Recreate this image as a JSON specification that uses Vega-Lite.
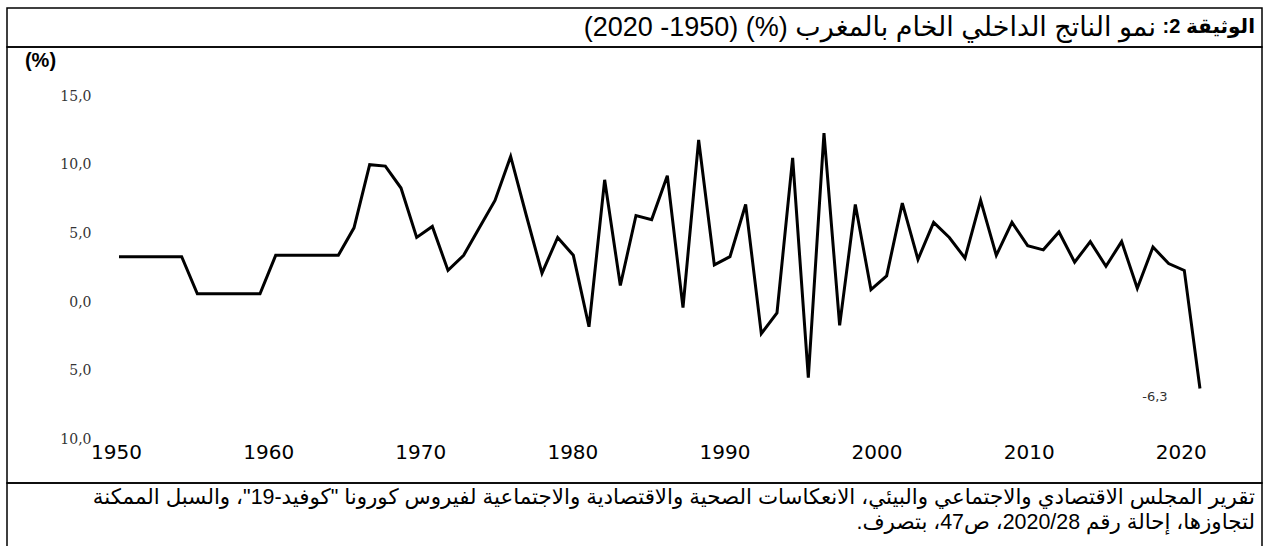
{
  "$schema": "https://vega.github.io/schema/vega-lite/v6.json",
  "background": "white",
  "padding": {"left": 6, "top": 1, "right": 3, "bottom": 0},
  "spacing": 0,
  "bounds": "flush",
  "config": {
    "view": {"stroke": "#000", "strokeWidth": 1.5},
    "locale": {"number": {"decimal": ",", "thousands": "\u00a0", "grouping": [3], "currency": ["", ""], "minus": "-"}},
    "title": {"font": "Liberation Sans, DejaVu Sans", "color": "#000", "anchor": "end", "frame": "group"}
  },
  "datasets": {
    "gdp": [
      {"year": 1951, "value": 3.3}, {"year": 1952, "value": 3.3}, {"year": 1953, "value": 3.3}, {"year": 1954, "value": 3.3}, {"year": 1955, "value": 3.3},
      {"year": 1956, "value": 0.6}, {"year": 1957, "value": 0.6}, {"year": 1958, "value": 0.6}, {"year": 1959, "value": 0.6}, {"year": 1960, "value": 0.6},
      {"year": 1961, "value": 3.4}, {"year": 1962, "value": 3.4}, {"year": 1963, "value": 3.4}, {"year": 1964, "value": 3.4}, {"year": 1965, "value": 3.4},
      {"year": 1966, "value": 5.4}, {"year": 1967, "value": 10.0}, {"year": 1968, "value": 9.9}, {"year": 1969, "value": 8.3}, {"year": 1970, "value": 4.7},
      {"year": 1971, "value": 5.5}, {"year": 1972, "value": 2.3}, {"year": 1973, "value": 3.4}, {"year": 1974, "value": 5.4}, {"year": 1975, "value": 7.4},
      {"year": 1976, "value": 10.6}, {"year": 1977, "value": 6.3}, {"year": 1978, "value": 2.1}, {"year": 1979, "value": 4.7}, {"year": 1980, "value": 3.4},
      {"year": 1981, "value": -1.8}, {"year": 1982, "value": 8.9}, {"year": 1983, "value": 1.2}, {"year": 1984, "value": 6.3}, {"year": 1985, "value": 6.0},
      {"year": 1986, "value": 9.2}, {"year": 1987, "value": -0.4}, {"year": 1988, "value": 11.8}, {"year": 1989, "value": 2.7}, {"year": 1990, "value": 3.3},
      {"year": 1991, "value": 7.1}, {"year": 1992, "value": -2.3}, {"year": 1993, "value": -0.8}, {"year": 1994, "value": 10.5}, {"year": 1995, "value": -5.5},
      {"year": 1996, "value": 12.3}, {"year": 1997, "value": -1.7}, {"year": 1998, "value": 7.1}, {"year": 1999, "value": 0.9}, {"year": 2000, "value": 1.9},
      {"year": 2001, "value": 7.2}, {"year": 2002, "value": 3.1}, {"year": 2003, "value": 5.8}, {"year": 2004, "value": 4.7}, {"year": 2005, "value": 3.2},
      {"year": 2006, "value": 7.4}, {"year": 2007, "value": 3.4}, {"year": 2008, "value": 5.8}, {"year": 2009, "value": 4.1}, {"year": 2010, "value": 3.8},
      {"year": 2011, "value": 5.1}, {"year": 2012, "value": 2.9}, {"year": 2013, "value": 4.4}, {"year": 2014, "value": 2.6}, {"year": 2015, "value": 4.4},
      {"year": 2016, "value": 1.0}, {"year": 2017, "value": 4.0}, {"year": 2018, "value": 2.8}, {"year": 2019, "value": 2.3}, {"year": 2020, "value": -6.3}
    ]
  },
  "vconcat": [
    {
      "width": 1255,
      "height": 39,
      "data": {"values": [{}]},
      "mark": {"type": "text", "text": ""},
      "encoding": {
        "x": {"datum": 0, "type": "quantitative", "axis": null},
        "y": {"datum": 0, "type": "quantitative", "axis": null}
      },
      "title": {"text": "\u202bالوثيقة 2:\u202c", "orient": "top", "offset": -35, "dx": -7, "fontSize": 20, "fontWeight": "bold"}
    },
    {
      "width": 1255,
      "height": 436,
      "data": {"name": "gdp"},
      "title": {"text": "\u202bنمو الناتج الداخلي الخام بالمغرب (%) (1950- 2020)\u202c", "orient": "top", "offset": 5, "dx": -106, "fontSize": 27, "fontWeight": "normal"},
      "layer": [
        {
          "mark": {"type": "line", "color": "#000", "strokeWidth": 3},
          "encoding": {
            "x": {"field": "year", "type": "quantitative", "scale": {"domain": [1943.85, 2023.96], "nice": false, "zero": false}, "axis": null},
            "y": {
              "field": "value", "type": "quantitative",
              "scale": {"domain": [-13.18, 18.57], "nice": false, "zero": false},
              "axis": {
                "values": [-10, -5, 0, 5, 10, 15], "orient": "left", "offset": -86, "labelPadding": 2,
                "ticks": false, "domain": false, "grid": false,
                "labelExpr": "replace(format(abs(datum.value), '.1f'), '.', ',')",
                "labelFont": "DejaVu Serif", "labelFontSize": 14, "labelColor": "#333",
                "labelFlush": false, "labelOverlap": false,
                "title": "(%)", "titleAngle": 0, "titleX": -53, "titleY": 13, "titleAlign": "center", "titleBaseline": "middle",
                "titleFont": "Liberation Sans", "titleFontSize": 20, "titleFontWeight": "bold", "titleColor": "#000"
              }
            }
          }
        },
        {
          "mark": {"type": "line", "opacity": 0},
          "encoding": {
            "x": {
              "field": "year", "type": "quantitative",
              "scale": {"domain": [1942.83, 2025.34], "nice": false, "zero": false},
              "axis": {
                "values": [1950, 1960, 1970, 1980, 1990, 2000, 2010, 2020], "format": "d", "orient": "bottom",
                "offset": -41, "labelPadding": 0, "ticks": false, "domain": false, "grid": false, "title": null,
                "labelFont": "DejaVu Sans", "labelFontSize": 20, "labelColor": "#000", "labelFlush": false, "labelOverlap": false
              }
            },
            "y": {"field": "value", "type": "quantitative"}
          }
        },
        {
          "transform": [{"filter": "datum.year == 2020"}],
          "mark": {"type": "text", "dx": -45, "dy": 8, "font": "DejaVu Sans", "fontSize": 13, "color": "#333"},
          "encoding": {
            "x": {"field": "year", "type": "quantitative", "scale": {"domain": [1943.85, 2023.96], "nice": false, "zero": false}, "axis": null},
            "y": {"field": "value", "type": "quantitative"},
            "text": {"field": "value", "type": "quantitative", "format": ".1f"}
          }
        }
      ],
      "resolve": {"scale": {"x": "independent"}}
    },
    {
      "width": 1255,
      "height": 68,
      "data": {"values": [{}]},
      "mark": {"type": "text", "text": ""},
      "encoding": {
        "x": {"datum": 0, "type": "quantitative", "axis": null},
        "y": {"datum": 0, "type": "quantitative", "axis": null}
      },
      "title": {
        "text": [
          "\u202bتقرير المجلس الاقتصادي والاجتماعي والبيئي، الانعكاسات الصحية والاقتصادية والاجتماعية لفيروس كورونا \"كوفيد-19\"، والسبل الممكنة\u202c",
          "\u202bلتجاوزها، إحالة رقم 2020/28، ص47، بتصرف.\u202c"
        ],
        "orient": "top", "offset": -56, "dx": -7, "fontSize": 21.4, "fontWeight": "normal", "lineHeight": 25
      }
    }
  ]
}
